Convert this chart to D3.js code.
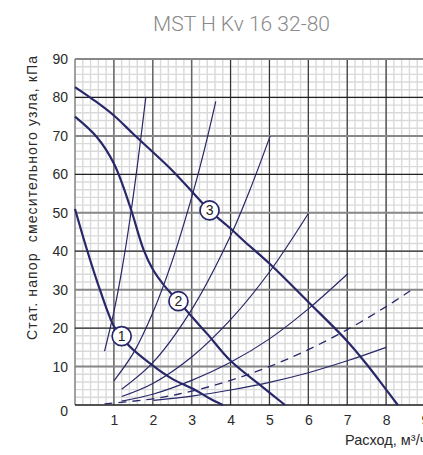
<!DOCTYPE html>
<html><head><meta charset="utf-8">
<script src="https://cdn.jsdelivr.net/npm/d3@7"></script>
<style>
html,body{margin:0;padding:0;background:#fff;overflow:hidden}
svg{display:block}
</style></head>
<body><div id="chart"></div>
<script>
const title = "MST H Kv 16 32-80";
const yTitle = "Стат. напор  смесительного узла, кПа";
const xTitle = "Расход, м³/ч";
const xTicks = [1,2,3,4,5,6,7,8,9];
const yTicks = [10,20,30,40,50,60,70,80,90];

// pump curves (thick)
const pump1 = [[0,51],[0.32,40],[0.64,30],[1.0,20.5],[1.2,17.9],[1.37,15.6],[2.02,10.1],[2.5,6.8],[3.09,3.9],[3.5,1.5],[3.8,0]];
const pump2 = [[0,75],[0.56,69.7],[1,62.8],[1.42,51.5],[1.76,40.5],[2,35.3],[2.3,31],[2.66,27],[3.0,23],[3.4,18.5],[4,11.5],[4.81,4.8],[5.4,0]];
const pump3 = [[0,82.7],[0.5,79.2],[1,75.3],[1.5,70.5],[2,65.8],[2.5,61],[3,55.6],[3.46,50.6],[4,45.9],[4.33,42.8],[5,36.8],[6,26.8],[7,16.6],[7.5,10.6],[8,4],[8.3,0]];
const pumpLabels = [["1",1.2,17.9],["2",2.66,27],["3",3.46,50.6]];

// system curves (thin)
const sysA = [[0.76,14],[1.0,24.2],[1.2,34.8],[1.4,47.4],[1.6,62],[1.82,80]];
const sysB = [[1.0,6.3],[1.5,13.5],[2,24],[2.5,37.5],[3,54],[3.3,65.3],[3.62,79]];
const sysC = [[1.2,4.1],[2,11],[3,24.8],[4,44],[4.5,56],[5.02,70]];
const sysD = [[1.2,2.2],[2,5.6],[3,12.5],[4,22.2],[5,34.6],[6,49.8]];
const sysE = [[1.2,1.0],[2,2.8],[3,6.4],[4,11.1],[5,17.2],[6,25],[7.02,34.2]];
const sysDash = [[0.76,0.3],[2,1.6],[3,3.6],[4,6.4],[5,10],[6,14.4],[7,19.6],[8,25.6],[8.62,29.7]];
const sysLow = [[2.02,1.2],[3,2.3],[4,3.9],[5,5.9],[6,8.4],[7,11.5],[8,15]];

const W = 423, H = 455;
const svg = d3.select("#chart").append("svg").attr("width", W).attr("height", H);
const x = d3.scaleLinear().domain([0,9]).range([75,425]);
const y = d3.scaleLinear().domain([0,90]).range([405,59]);
const ink = "#27276a";

const grid = svg.append("g");
grid.selectAll(".mx").data(d3.range(0,9.01,0.2)).join("line")
  .attr("x1", d=>x(d)).attr("x2", d=>x(d)).attr("y1", y(0)).attr("y2", y(90))
  .attr("stroke", "#dadada").attr("stroke-width", 1.4);
grid.selectAll(".my").data(d3.range(0,90.1,2)).join("line")
  .attr("x1", x(0)).attr("x2", x(9)).attr("y1", d=>y(d)).attr("y2", d=>y(d))
  .attr("stroke", "#dadada").attr("stroke-width", 1.4);
grid.selectAll(".Mx").data(d3.range(0,10)).join("line")
  .attr("x1", d=>x(d)).attr("x2", d=>x(d)).attr("y1", y(0)).attr("y2", y(90))
  .attr("stroke", d=> d===0 ? "#888" : (d<=3 ? "#666" : "#333"))
  .attr("stroke-width", d=> d<=3 ? 1.5 : 1.2);
grid.selectAll(".My").data(d3.range(0,91,10)).join("line")
  .attr("x1", x(0)).attr("x2", x(9)).attr("y1", d=>y(d)).attr("y2", d=>y(d))
  .attr("stroke", d=> (d/10)%2===1 ? "#888" : "#222")
  .attr("stroke-width", d=> (d/10)%2===1 ? 2 : 1.3);

const font = "'Liberation Sans', Arial, sans-serif";
const xAxis = svg.append("g").attr("transform", `translate(0,${y(0)})`)
  .call(d3.axisBottom(x).tickValues(xTicks).tickSize(0).tickPadding(10).tickFormat(d3.format("d")));
const yAxis = svg.append("g").attr("transform", `translate(${x(0)},0)`)
  .call(d3.axisLeft(y).tickValues(yTicks).tickSize(0).tickPadding(7).tickFormat(d3.format("d")));
[xAxis,yAxis].forEach(a=>{
  a.select(".domain").remove();
  a.selectAll("text").attr("font-family", font).attr("font-size", 14).attr("fill", "#2a2a2a");
});
svg.append("text").attr("x", 68).attr("y", 416).attr("text-anchor","end")
  .attr("font-family", font).attr("font-size", 14).attr("fill","#2a2a2a").text("0");

const line = d3.line().x(d=>x(d[0])).y(d=>y(d[1])).curve(d3.curveCatmullRom.alpha(0.5));
const curves = svg.append("g").attr("fill","none").attr("stroke", ink);
[sysA,sysB,sysC,sysD,sysE,sysLow].forEach(s=>{
  curves.append("path").attr("d", line(s)).attr("stroke-width", 1.2);
});
curves.append("path").attr("d", line(sysDash)).attr("stroke-width", 1.3).attr("stroke-dasharray","8,6");
[pump1,pump2,pump3].forEach(s=>{
  curves.append("path").attr("d", line(s)).attr("stroke-width", 2.2);
});

const lg = svg.append("g");
pumpLabels.forEach(([t,a,b])=>{
  lg.append("circle").attr("cx", x(a)).attr("cy", y(b)).attr("r", 9.5)
    .attr("fill","#fff").attr("stroke", ink).attr("stroke-width", 1.7);
  lg.append("text").attr("x", x(a)).attr("y", y(b)+5).attr("text-anchor","middle")
    .attr("font-family", font).attr("font-size", 14).attr("fill","#222").text(t);
});

svg.append("text").attr("x", 241.5).attr("y", 31).attr("text-anchor","middle")
  .attr("font-family","Roboto, 'Liberation Sans', sans-serif").attr("font-weight",300)
  .attr("font-size", 21).attr("fill","#8a8a8a").text(title);
svg.append("text").attr("transform","translate(37,198) rotate(-90)").attr("text-anchor","middle")
  .attr("font-family", font).attr("font-size", 14).attr("fill","#2a2a2a")
  .attr("textLength", 284).attr("lengthAdjust","spacing")
  .style("white-space","pre").text(yTitle);
svg.append("text").attr("x", 345).attr("y", 445)
  .attr("font-family", font).attr("font-size", 14.5).attr("fill","#2a2a2a").text(xTitle);
</script></body></html>
